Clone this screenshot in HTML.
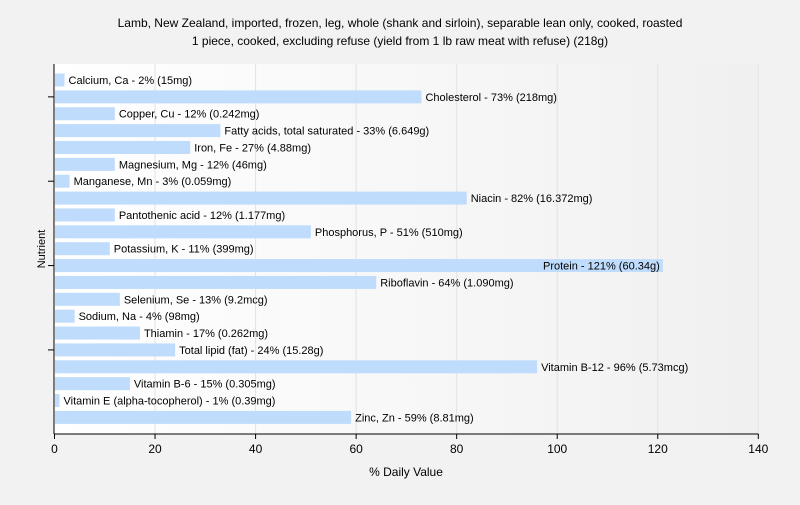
<!DOCTYPE html>
<html><head><meta charset="utf-8"><style>
body{margin:0;background:#f2f2f2;font-family:"Liberation Sans",sans-serif;}
svg text{font-family:"Liberation Sans",sans-serif;}
</style></head><body>
<svg id="c" width="800" height="500" xmlns="http://www.w3.org/2000/svg">
<defs><linearGradient id="g" x1="0" x2="1" y1="0" y2="0"><stop offset="0" stop-color="#ffffff"/><stop offset="1" stop-color="#f0f0f0"/></linearGradient></defs>
<rect x="0" y="0" width="800" height="500" fill="#f2f2f2"/>
<text x="400" y="27" text-anchor="middle" font-size="12" fill="#000">Lamb, New Zealand, imported, frozen, leg, whole (shank and sirloin), separable lean only, cooked, roasted</text>
<text x="400" y="45" text-anchor="middle" font-size="12" fill="#000">1 piece, cooked, excluding refuse (yield from 1 lb raw meat with refuse) (218g)</text>
<rect x="54" y="64" width="704" height="370" fill="url(#g)"/>
<g id="grid"></g><g id="bars"></g><g id="axes"></g>
<text x="406" y="476" text-anchor="middle" font-size="12">% Daily Value</text>
<text x="45" y="249" text-anchor="middle" font-size="11" transform="rotate(-90 45 249)">Nutrient</text>
</svg>
<script>
const labels=["Calcium, Ca - 2% (15mg)","Cholesterol - 73% (218mg)","Copper, Cu - 12% (0.242mg)","Fatty acids, total saturated - 33% (6.649g)","Iron, Fe - 27% (4.88mg)","Magnesium, Mg - 12% (46mg)","Manganese, Mn - 3% (0.059mg)","Niacin - 82% (16.372mg)","Pantothenic acid - 12% (1.177mg)","Phosphorus, P - 51% (510mg)","Potassium, K - 11% (399mg)","Protein - 121% (60.34g)","Riboflavin - 64% (1.090mg)","Selenium, Se - 13% (9.2mcg)","Sodium, Na - 4% (98mg)","Thiamin - 17% (0.262mg)","Total lipid (fat) - 24% (15.28g)","Vitamin B-12 - 96% (5.73mcg)","Vitamin B-6 - 15% (0.305mg)","Vitamin E (alpha-tocopherol) - 1% (0.39mg)","Zinc, Zn - 59% (8.81mg)"];
const values=[2,73,12,33,27,12,3,82,12,51,11,121,64,13,4,17,24,96,15,1,59];
const xTicks=[0,20,40,60,80,100,120,140];
const NS="http://www.w3.org/2000/svg";
const X0=54.5,X1=758.3,XMAX=140;
const x=v=>X0+(X1-X0)*v/XMAX;
const y=i=>80+i*16.87;
function mk(tag,attrs,parent){const e=document.createElementNS(NS,tag);for(const k in attrs)e.setAttribute(k,attrs[k]);document.getElementById(parent).appendChild(e);return e;}
xTicks.forEach(t=>{
  if(t>0){const l=mk('line',{x1:x(t),x2:x(t),y1:64,y2:434,stroke:'#e2e2e2'},'grid');
  
  }
  const tk=mk('line',{x1:x(t),x2:x(t),y1:434,y2:439,stroke:'#000'},'axes');
  
  
  const tx=mk('text',{x:x(t),y:453,'text-anchor':'middle','font-size':12},'axes');
  tx.textContent=t;
  
  
});
values.forEach((v,i)=>{
  const r=mk('rect',{x:X0+0.5,y:y(i)-6.5,width:Math.max(0,x(v)-X0-0.5),height:13,fill:'#bfdcfc'},'bars');
  
  
  const t=mk('text',{x:x(v)+4,y:y(i)+4,'font-size':11,fill:'#000'},'bars');
  t.textContent=labels[i];
  
  
  const w=t.getComputedTextLength();
  if(x(v)+4+w>X1){t.setAttribute('x',x(v)-3);t.setAttribute('text-anchor','end');}
});
[1,6,11,16].forEach(i=>{
  const l=mk('line',{x1:48,x2:54,y1:y(i),y2:y(i),stroke:'#000'},'axes');
  
  
});
const ya=mk('line',{x1:54,x2:54,y1:64,y2:434,stroke:'#000'},'axes');


const xa=mk('line',{x1:54,x2:758.5,y1:434,y2:434,stroke:'#000'},'axes');


</script>
</body></html>
